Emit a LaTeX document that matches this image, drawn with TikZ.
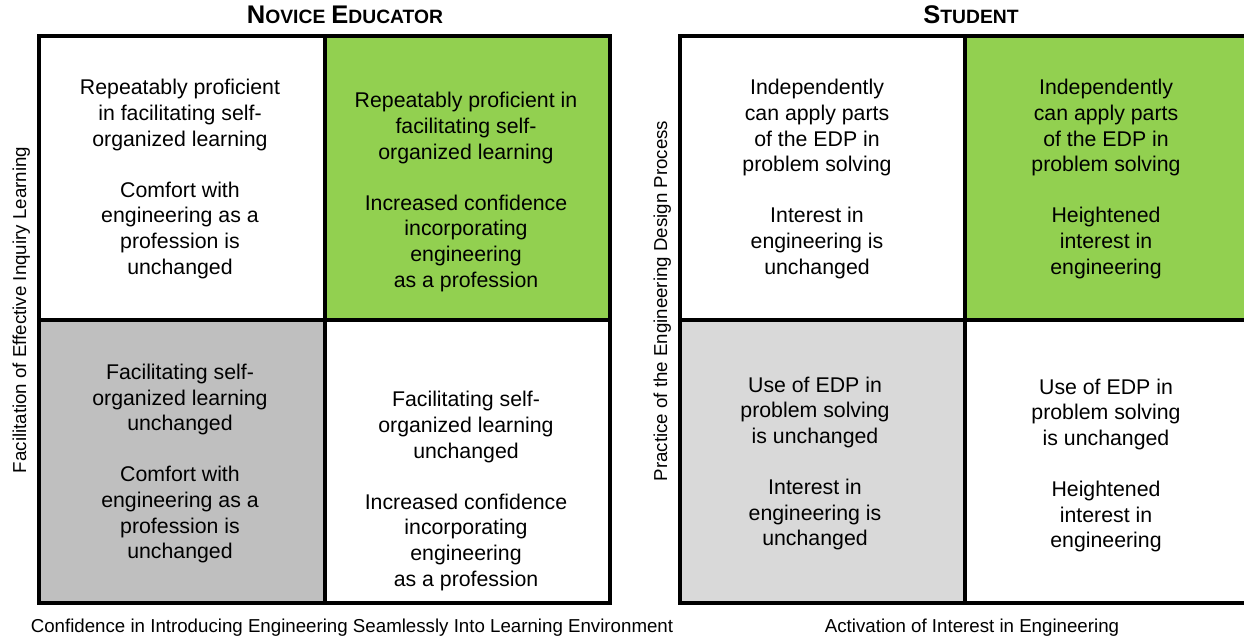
\documentclass[tikz,border=0pt]{standalone}
\usepackage{fontspec}
\setmainfont{Liberation Sans}
\definecolor{qgreen}{HTML}{92D050}
\definecolor{qdark}{HTML}{BFBFBF}
\definecolor{qlight}{HTML}{D9D9D9}
\newcommand{\bigc}[1]{{\fontsize{25.5}{30}\selectfont #1}}
\newcommand{\smc}[1]{{\fontsize{19.3}{30}\selectfont #1}}
\begin{document}
\begin{tikzpicture}[x=1pt,y=-1pt,
  cellbox/.style={draw=black,line width=3.5pt},
  celltext/.style={align=center,inner sep=0pt,font=\fontsize{21.3}{25.6}\selectfont},
  axislabel/.style={inner sep=0pt,font=\fontsize{18.7}{22}\selectfont},
  titlelabel/.style={inner sep=0pt,font=\bfseries}]
\useasboundingbox (0,0) rectangle (1244,636);
\clip (0,0) rectangle (1244,636);
% left grid
\filldraw[cellbox,fill=white] (39,36) rectangle (325,320);
\filldraw[cellbox,fill=qgreen] (325,36) rectangle (610,320);
\filldraw[cellbox,fill=qdark] (39,320) rectangle (325,603);
\filldraw[cellbox,fill=white] (325,320) rectangle (610,603);
% right grid
\filldraw[cellbox,fill=white] (680,36) rectangle (965,320);
\filldraw[cellbox,fill=qgreen] (965,36) rectangle (1248,320);
\filldraw[cellbox,fill=qlight] (680,320) rectangle (965,603);
\filldraw[cellbox,fill=white] (965,320) rectangle (1248,603);
% titles
\node[titlelabel,anchor=base] (t1) at (345,24) {\bigc{N}\smc{OVICE}\hspace{6pt}\bigc{E}\smc{DUCATOR}};
\node[titlelabel,anchor=base] (t2) at (971,24) {\bigc{S}\smc{TUDENT}};
% axis labels
\node[axislabel,anchor=base] (ax1) at (352,632) {Confidence in Introducing Engineering Seamlessly Into Learning Environment};
\node[axislabel,anchor=base] (ax2) at (972,632) {Activation of Interest in Engineering};
\node[axislabel,anchor=base,rotate=90] (ay1) at (26,310) {Facilitation of Effective Inquiry Learning};
\node[axislabel,anchor=base,rotate=90] (ay2) at (667,301) {Practice of the Engineering Design Process};
% left grid texts
\node[celltext] (a11) at (180,179) {Repeatably proficient\\in facilitating self-\\organized learning\\[25.6pt]Comfort with\\engineering as a\\profession is\\unchanged};
\node[celltext] (a12) at (466,192) {Repeatably proficient in\\facilitating self-\\organized learning\\[25.6pt]Increased confidence\\incorporating\\engineering\\as a profession};
\node[celltext] (a21) at (180,463.5) {Facilitating self-\\organized learning\\unchanged\\[25.6pt]Comfort with\\engineering as a\\profession is\\unchanged};
\node[celltext] (a22) at (466,491) {Facilitating self-\\organized learning\\unchanged\\[25.6pt]Increased confidence\\incorporating\\engineering\\as a profession};
% right grid texts
\node[celltext] (b11) at (817,179) {Independently\\can apply parts\\of the EDP in\\problem solving\\[25.6pt]Interest in\\engineering is\\unchanged};
\node[celltext] (b12) at (1106,179) {Independently\\can apply parts\\of the EDP in\\problem solving\\[25.6pt]Heightened\\interest in\\engineering};
\node[celltext] (b21) at (815,463.5) {Use of EDP in\\problem solving\\is unchanged\\[25.6pt]Interest in\\engineering is\\unchanged};
\node[celltext] (b22) at (1106,465.5) {Use of EDP in\\problem solving\\is unchanged\\[25.6pt]Heightened\\interest in\\engineering};
\end{tikzpicture}
\end{document}
